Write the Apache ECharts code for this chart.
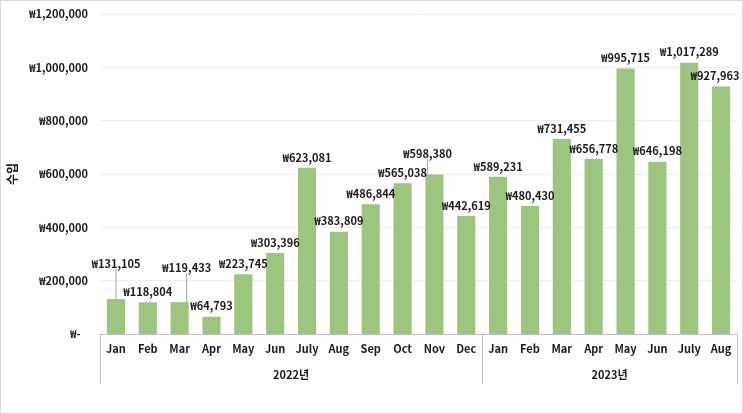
<!DOCTYPE html>
<html>
<head>
<meta charset="utf-8">
<script src="https://cdn.jsdelivr.net/npm/echarts@6/dist/echarts.min.js"></script>
<style>
html,body{margin:0;padding:0;background:#fff;}
#wrap{width:741px;height:412px;border:1px solid #d9d9d9;}
#chart{width:741px;height:412px;}
</style>
</head>
<body>
<div id="wrap"><div id="chart"></div></div>
<script>
const months = ['Jan','Feb','Mar','Apr','May','Jun','July','Aug','Sep','Oct','Nov','Dec',
                'Jan','Feb','Mar','Apr','May','Jun','July','Aug'];
const years = ['2022년','2023년'];
const yearCounts = [12, 8];
const revenue = [131105,118804,119433,64793,223745,303396,623081,383809,486844,565038,598380,442619,
                 589231,480430,731455,656778,995715,646198,1017289,927963];
const yTitle = '수입';

// label displacement (style only): index -> [dx, dy, showLine]
const labelMove = {0:[0,-25,true], 2:[7,-24,true], 10:[-7,-10,true], 19:[-6,0,false]};

const font = "'Noto Sans CJK KR', 'Noto Sans', sans-serif";
const textColor = '#1a1a1a';

function won(v){ return v === 0 ? '₩-   ' : '₩' + v.toLocaleString('en-US'); }

const bounds = [0];
yearCounts.forEach(c => bounds.push(bounds[bounds.length-1] + c));
const centers = yearCounts.map((c,i) => bounds[i] + c/2);
const total = bounds[bounds.length-1];

const data = revenue.map((v,i) => {
  const item = {value: v};
  if (labelMove[i] && labelMove[i][2]) item.labelLine = {show: true};
  return item;
});

const chart = echarts.init(document.getElementById('chart'), null, {renderer:'canvas'});
chart.setOption({
  animation: false,
  textStyle: {fontFamily: font},
  grid: {left: 99, right: 5, top: 13, bottom: 79, containLabel: false, outerBoundsMode: 'none'},
  xAxis: [{
    type: 'category',
    data: months,
    axisLine: {show: true, lineStyle: {color: '#bfbfbf', width: 1}},
    axisTick: {show: false},
    axisLabel: {color: textColor, fontWeight: 'bold', fontSize: 11, fontFamily: font, margin: 9, interval: 0}
  },{
    type: 'value',
    position: 'bottom',
    min: 0, max: total,
    splitLine: {show: false},
    axisLine: {show: false},
    axisTick: {show: true, length: 50, customValues: bounds, lineStyle: {color: '#bfbfbf', width: 1}},
    axisLabel: {
      show: true, margin: 35, customValues: centers,
      color: textColor, fontWeight: 'bold', fontSize: 11, fontFamily: font,
      formatter: function(v){ const i = centers.indexOf(v); return i >= 0 ? years[i] : ''; }
    }
  }],
  yAxis: {
    type: 'value',
    min: 0, max: 1200000, interval: 200000,
    name: yTitle,
    nameLocation: 'middle',
    nameGap: 80,
    nameTextStyle: {color: textColor, fontSize: 12, fontWeight: 'bold', fontFamily: font},
    axisLine: {show: false},
    axisTick: {show: false},
    splitLine: {lineStyle: {color: '#eeeeee', width: 1}},
    axisLabel: {color: textColor, fontWeight: 'bold', fontSize: 11, fontFamily: font, margin: 12, formatter: won}
  },
  series: [{
    type: 'bar',
    xAxisIndex: 0,
    data: data,
    barCategoryGap: '43%',
    itemStyle: {color: '#9cc67f'},
    label: {
      show: true, position: 'top', distance: 5,
      color: textColor, fontWeight: 'bold', fontSize: 11, fontFamily: font,
      formatter: p => won(p.value)
    },
    labelLine: {show: false, lineStyle: {color: '#a6a6a6', width: 1}},
    labelLayout: function(p){
      const m = labelMove[p.dataIndex];
      return m ? {dx: m[0], dy: m[1]} : {};
    }
  }]
});
</script>
</body>
</html>
